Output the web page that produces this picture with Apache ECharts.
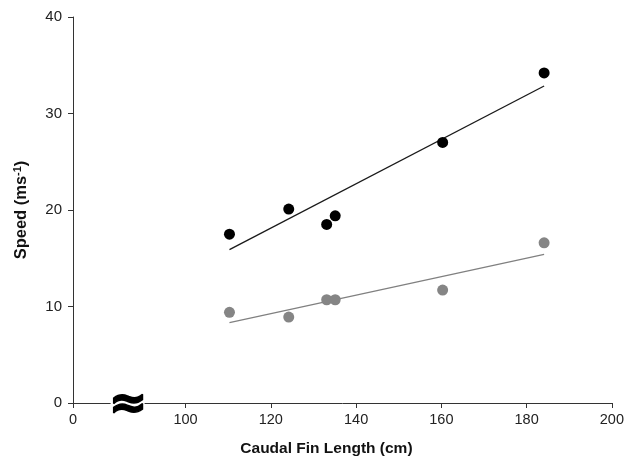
<!DOCTYPE html>
<html>
<head>
<meta charset="utf-8">
<script src="https://cdn.jsdelivr.net/npm/echarts@6/dist/echarts.min.js"></script>
<style>html,body{margin:0;padding:0;background:#fff}#c{width:627px;height:471px}</style>
</head>
<body>
<div id="c"></div>
<script>
// Data (caudal fin length in cm, speed in m/s)
const finLength = [110.3, 124.2, 133.1, 135.1, 160.3, 184.1];
const speedMax = [17.5, 20.1, 18.5, 19.4, 27.0, 34.2];
const speedMean = [9.4, 8.9, 10.7, 10.7, 11.7, 16.6];
const fitX = [110.3, 184.1];
const fitMax = [15.9, 32.85];
const fitMean = [8.32, 15.4];
const xTickLabels = [0, 100, 120, 140, 160, 180, 200];
const yTicks = [0, 10, 20, 30, 40];

// broken x axis: 0 then jump to 100
const BREAK_OFFSET = 73.6;
const toU = v => v === 0 ? 0 : v - BREAK_OFFSET;
const fromU = u => Math.abs(u) < 1e-6 ? 0 : Math.round(u + BREAK_OFFSET);

const chart = echarts.init(document.getElementById('c'), null, {renderer: 'canvas'});
const font = 'Liberation Sans, Arial, sans-serif';
chart.setOption({
  animation: false,
  backgroundColor: '#fff',
  grid: {left: 73, right: 14, top: 17, bottom: 68},
  xAxis: {
    type: 'value', min: 0, max: toU(200),
    name: 'Caudal Fin Length (cm)', nameLocation: 'middle', nameGap: 38,
    nameTextStyle: {fontFamily: font, fontSize: 15.5, fontWeight: 'bold', color: '#111', padding: [0, 32, 0, 0]},
    axisLine: {show: true, lineStyle: {color: '#333', width: 1}},
    axisTick: {show: true, length: 5, lineStyle: {color: '#333'}, customValues: xTickLabels.map(toU)},
    axisLabel: {fontFamily: font, fontSize: 14.5, color: '#222', margin: 9,
      customValues: xTickLabels.map(toU), formatter: v => String(fromU(v))},
    splitLine: {show: false}
  },
  yAxis: {
    type: 'value', min: yTicks[0], max: yTicks[yTicks.length - 1], interval: 10,
    name: 'Speed (ms{sup|-1})', nameLocation: 'middle', nameGap: 42, nameRotate: 90,
    nameTextStyle: {fontFamily: font, fontSize: 16.5, fontWeight: 'bold', color: '#111',
      rich: {sup: {fontFamily: font, fontSize: 11, fontWeight: 'bold', color: '#111', verticalAlign: 'top', padding: [0, 0, 8, 0]}}},
    axisLine: {show: true, lineStyle: {color: '#333', width: 1}},
    axisTick: {show: true, length: 5, lineStyle: {color: '#333'}},
    axisLabel: {fontFamily: font, fontSize: 15, color: '#222', margin: 11},
    splitLine: {show: false}
  },
  series: [
    {type: 'line', data: fitX.map((x, i) => [toU(x), fitMax[i]]), showSymbol: false, symbol: 'none',
     lineStyle: {color: '#1a1a1a', width: 1.3}, z: 2},
    {type: 'line', data: fitX.map((x, i) => [toU(x), fitMean[i]]), showSymbol: false, symbol: 'none',
     lineStyle: {color: '#808080', width: 1.3}, z: 2},
    {type: 'scatter', data: finLength.map((x, i) => [toU(x), speedMax[i]]), symbolSize: 11,
     itemStyle: {color: '#000', opacity: 1}, z: 3},
    {type: 'scatter', data: finLength.map((x, i) => [toU(x), speedMean[i]]), symbolSize: 11,
     itemStyle: {color: '#858585', opacity: 1}, z: 3}
  ]
});
const p = chart.convertToPixel({gridIndex: 0}, [toU(100) * 0.485, 0]);
chart.setOption({
  graphic: [
    {type: 'rect', shape: {x: p[0] - 17, y: p[1] - 3, width: 34, height: 6}, style: {fill: '#fff'}, z: 100},
    {type: 'text', x: p[0] + 0.5, y: p[1] + 3, z: 101,
     style: {text: '≈', fontFamily: 'DejaVu Sans, sans-serif', fontSize: 46, fontWeight: 'bold', fill: '#000',
       stroke: '#000', lineWidth: 1.5, align: 'center', verticalAlign: 'middle'}}
  ]
});
</script>
</body>
</html>
